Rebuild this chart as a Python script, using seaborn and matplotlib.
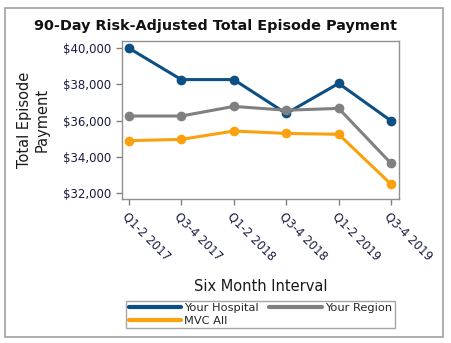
import matplotlib
matplotlib.use("Agg")
import matplotlib.pyplot as plt
import seaborn as sns
import pandas as pd
from matplotlib.patches import Rectangle
from matplotlib.lines import Line2D
from matplotlib.ticker import FuncFormatter

periods = ["Q1-2 2017", "Q3-4 2017", "Q1-2 2018", "Q3-4 2018", "Q1-2 2019", "Q3-4 2019"]
your_hospital = [40000, 38260, 38260, 36390, 38050, 35980]
your_region = [36250, 36250, 36780, 36570, 36670, 33630]
mvc_all = [34890, 34960, 35420, 35290, 35240, 32480]
series_names = ["Your Hospital", "Your Region", "MVC All"]
colors = ["#0b4f84", "#808080", "#fba10e"]

df = pd.concat([
    pd.DataFrame({"period": periods, "value": vals, "series": name, "x": range(len(periods))})
    for name, vals in zip(series_names, [your_hospital, your_region, mvc_all])
])

sns.set_style("white")
plt.rcParams['font.family'] = ['DejaVu Sans']

fig = plt.figure(figsize=(4.51, 3.43), dpi=100)
ax = fig.add_axes([122/451, 1-199/343, 277/451, 158/343])

sns.lineplot(data=df, x="x", y="value", hue="series", hue_order=series_names,
             palette=colors, marker="o", markersize=7, markeredgewidth=0,
             linewidth=2.2, ax=ax, legend=False)

ax.set_xlim(-0.13, 5.15)
ax.set_ylim(31670, 40390)
ax.set_yticks([32000, 34000, 36000, 38000, 40000])
ax.yaxis.set_major_formatter(FuncFormatter(lambda v, p: f"${v:,.0f}"))
ax.set_xticks(range(len(periods)))
ax.set_xticklabels(periods, rotation=-45, ha="left", va="top", rotation_mode="anchor")
ax.tick_params(axis="both", labelsize=8.5, colors="#808080", labelcolor="#1a1a40",
               direction="out", length=4, width=1, bottom=True, left=True)
for s in ax.spines.values():
    s.set_color("#909090")
    s.set_linewidth(1)
ax.set_xlabel("Six Month Interval", fontsize=10.5, color="#1a1a1a", labelpad=12)
ax.set_ylabel("Total Episode\nPayment", fontsize=10.5, color="#1a1a1a", labelpad=10)

fig.suptitle("90-Day Risk-Adjusted Total Episode Payment", x=215/451, y=1-26/343,
             va="center", fontsize=10.4, fontweight="bold", color="#111111")

order = [0, 2, 1]
handles = [Line2D([0], [0], color=colors[i], lw=3) for i in order]
labels = [series_names[i] for i in order]
leg = fig.legend(handles, labels, loc="center",
                 bbox_to_anchor=(260.5/451, 1-314.5/343),
                 ncol=2, fontsize=8.2, frameon=True, handlelength=4.6, columnspacing=0.9,
                 handletextpad=0.3, labelspacing=0.2, borderpad=0.25, borderaxespad=0,
                 fancybox=False)
leg.get_frame().set_edgecolor("#909090")
leg.get_frame().set_linewidth(1)

fig.patches.append(Rectangle((5/451, 1-337/343), 438/451, 329/343, transform=fig.transFigure,
                             fill=False, edgecolor="#a0a0a0", linewidth=1.2))

fig.savefig("out.png", dpi=100)
